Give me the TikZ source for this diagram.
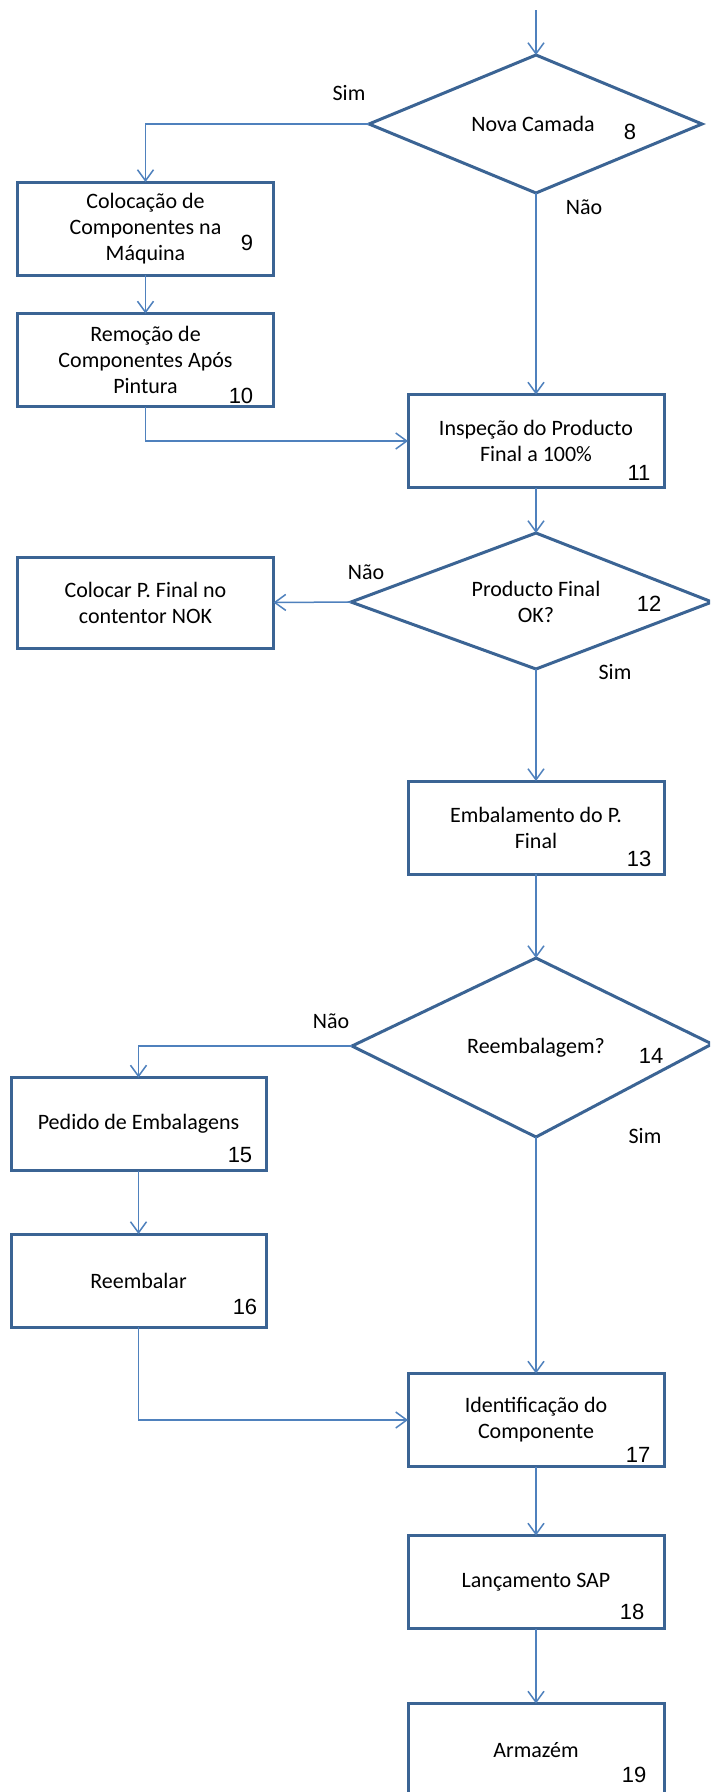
\documentclass[tikz,border=0pt]{standalone}
\usepackage{fontspec}
\setmainfont{Carlito}
\newfontfamily\numfont{Liberation Sans}
\usetikzlibrary{arrows.meta}
\definecolor{edgeblue}{HTML}{3B6494}
\definecolor{linkblue}{HTML}{4F81BD}
\begin{document}
\begin{tikzpicture}[x=1pt,y=-1pt,
  box/.style={draw=edgeblue, line width=3pt, fill=white, minimum width=256pt,
    minimum height=93pt, align=center, inner sep=0pt, outer sep=0pt,
    font=\fontsize{22}{26}\selectfont},
  dia/.style={draw=edgeblue, line width=3pt, line join=miter},
  txt/.style={align=center, inner sep=0pt, font=\fontsize{22}{26}\selectfont},
  num/.style={inner sep=0pt, font=\numfont\fontsize{22}{26}\selectfont},
  lbl/.style={inner sep=0pt, font=\fontsize{22}{26}\selectfont},
  link/.style={draw=linkblue, line width=1.5pt,
    -{Straight Barb[length=11pt,width=16pt,line width=1.5pt]}},
]
\fill[white] (0,0) rectangle (710,1792);
\useasboundingbox (0,0) rectangle (710,1792);
\clip (0,0) rectangle (710,1792);

% decision 8
\coordinate (start) at (536,10);
\coordinate (d8l) at (369,124);
\coordinate (d8t) at (536,55);
\coordinate (d8r) at (702,124);
\coordinate (d8b) at (536,193);
\draw[dia] (d8l) -- (d8t) -- (d8r) -- (d8b) -- cycle;
\node[txt] (d8) at (533,124) {Nova Camada};
\node[num] (n8) at (630,132) {8};

% left branch: steps 9 and 10
\node[box] (b9) at (145.5,228.5) {Colocação de\\Componentes na\\Máquina};
\node[num] (n9) at (247,243) {9};
\node[box] (b10) at (145.5,360) {Remoção de\\Componentes Após\\Pintura};
\node[num] (n10) at (241,396) {10};

% step 11
\node[box] (b11) at (536,441) {Inspeção do Producto\\Final a 100\%};
\node[num] (n11) at (639,473) {11};

% decision 12
\coordinate (d12l) at (351,602);
\coordinate (d12t) at (536,533);
\coordinate (d12r) at (712,602);
\coordinate (d12b) at (536,669);
\draw[dia] (d12l) -- (d12t) -- (d12r) -- (d12b) -- cycle;
\node[txt] (d12) at (536,602) {Producto Final\\OK?};
\node[num] (n12) at (649,604) {12};

\node[box, minimum height=91pt] (nok) at (145.5,602.5) {Colocar P. Final no\\contentor NOK};

% step 13
\node[box] (b13) at (536,827.5) {Embalamento do P.\\Final};
\node[num] (n13) at (639,859) {13};

% decision 14
\coordinate (d14l) at (352,1046);
\coordinate (d14t) at (536,958);
\coordinate (d14r) at (712,1044);
\coordinate (d14b) at (536,1137);
\draw[dia] (d14l) -- (d14t) -- (d14r) -- (d14b) -- cycle;
\node[txt] (d14) at (536,1048) {Reembalagem?};
\node[num] (n14) at (651,1056) {14};

% repacking branch: steps 15 and 16
\node[box, minimum width=255pt] (b15) at (138.5,1124) {Pedido de Embalagens};
\node[num] (n15) at (240,1155) {15};
\node[box, minimum width=255pt] (b16) at (138.5,1280.5) {Reembalar};
\node[num] (n16) at (245,1307) {16};

% steps 17 to 19
\node[box] (b17) at (536,1420) {Identificação do\\Componente};
\node[num] (n17) at (638,1455) {17};
\node[box] (b18) at (536,1582) {Lançamento SAP};
\node[num] (n18) at (632,1612) {18};
\node[box] (b19) at (536,1750) {Armazém};
\node[num] (n19) at (634,1775) {19};

% branch labels
\node[lbl] (s8) at (349,93) {Sim};
\node[lbl] (n8no) at (584,207) {Não};
\node[lbl] (n12no) at (366,572) {Não};
\node[lbl] (s12) at (615,672) {Sim};
\node[lbl] (n14no) at (331,1021) {Não};
\node[lbl] (s14) at (645,1136) {Sim};

% connectors
\draw[link] (start) -- (d8t);
\draw[link] (d8l) -| (b9.north);
\draw[link] (b9.south) -- (b10.north);
\draw[link] (d8b) -- (b11.north);
\draw[link] (b10.south) |- (b11.west);
\draw[link] (b11.south) -- (d12t);
\draw[link] (d12l) -- (nok.east);
\draw[link] (d12b) -- (b13.north);
\draw[link] (b13.south) -- (d14t);
\draw[link] (d14l) -| (b15.north);
\draw[link] (b15.south) -- (b16.north);
\draw[link] (d14b) -- (b17.north);
\draw[link] (b16.south) |- (b17.west);
\draw[link] (b17.south) -- (b18.north);
\draw[link] (b18.south) -- (b19.north);
\end{tikzpicture}
\end{document}
